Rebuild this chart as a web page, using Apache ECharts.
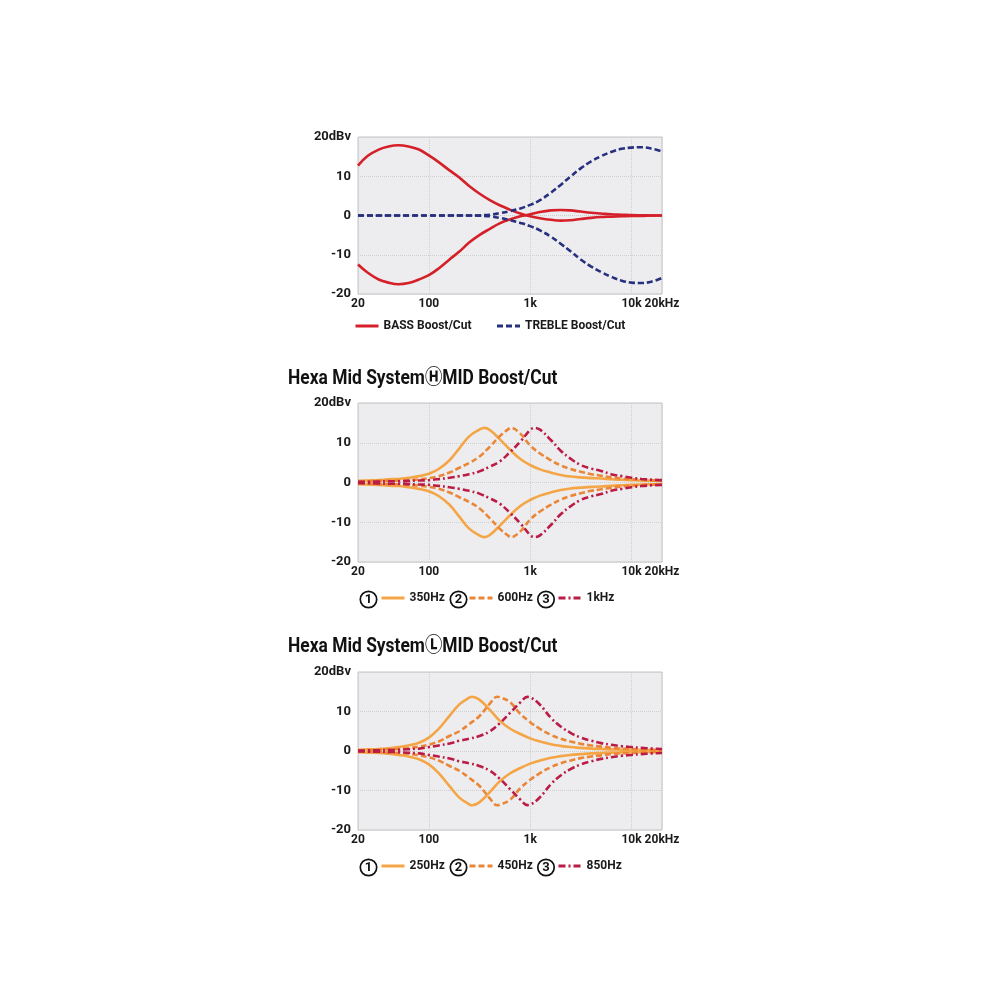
<!DOCTYPE html>
<html lang="en">
<head>
<meta charset="UTF-8">
<title>Tone control response</title>
<script src="https://cdn.jsdelivr.net/npm/echarts@6/dist/echarts.min.js"></script>
<style>
    html, body { margin: 0; padding: 0; background: #ffffff; }
    #main { width: 1000px; height: 1000px; }
</style>
</head>
<body>
<div id="main"></div>
<script>
// axis ticks
var tickValues = [20, 100, 1000, 10000, 20000];
var tickLabels = ['20', '100', '1k', '10k', '20kHz'];
var dbTicks = [-20, -10, 0, 10, 20];
var dbLabels = ['-20', '-10', '0', '10', '20dBv'];

// 1/3 octave frequencies (Hz) shared by all curves
var freqs = [20, 25, 32, 40, 50, 63, 80, 100, 125, 160, 200, 250, 315, 400, 500, 630, 800, 1000, 1250, 1600, 2000, 2500, 3150, 4000, 5000, 6300, 8000, 10000, 12500, 16000, 20000];

// chart 1 : bass / treble (dB)
var bassBoost = [12.7, 15.2, 16.8, 17.6, 17.9, 17.6, 16.8, 15.3, 13.6, 11.5, 9.7, 7.5, 5.6, 3.9, 2.6, 1.5, 0.5, -0.2, -0.7, -1.1, -1.3, -1.2, -0.9, -0.6, -0.4, -0.3, -0.2, -0.1, -0.1, 0, 0];
var bassCut = [-12.5, -14.6, -16.3, -17.1, -17.5, -17.2, -16.3, -15.2, -13.5, -11.2, -9.2, -6.9, -5.0, -3.4, -2.0, -1.0, -0.2, 0.3, 0.9, 1.3, 1.4, 1.3, 1.0, 0.7, 0.5, 0.3, 0.2, 0.1, 0.05, 0, 0];
var trebleBoost = [0, 0, 0, 0, 0, 0, 0, 0, 0, 0, 0, 0, 0.05, 0.2, 0.6, 1.1, 1.8, 2.7, 3.9, 5.8, 7.8, 9.9, 12.0, 13.8, 15.1, 16.2, 17.0, 17.3, 17.4, 17.0, 16.3];
var trebleCut = [0, 0, 0, 0, 0, 0, 0, 0, 0, 0, 0, 0, -0.05, -0.2, -0.6, -1.2, -1.9, -2.7, -3.8, -5.4, -7.2, -9.1, -11.2, -13.0, -14.4, -15.6, -16.6, -17.1, -17.2, -16.8, -15.9];

// chart 2 : H MID
var hNames = ['350Hz', '600Hz', '1kHz'];
var hPeakFreq = [353, 642, 1104];
var hPeakDb = [13.75, 13.75, 13.75];
var hBoost350 = [0.4, 0.5, 0.6, 0.8, 0.9, 1.2, 1.6, 2.2, 3.4, 5.6, 8.6, 11.6, 13.3, 13.2, 10.9, 8.3, 5.9, 4.4, 3.3, 2.5, 1.9, 1.5, 1.3, 1.1, 1.0, 0.8, 0.7, 0.6, 0.5, 0.45, 0.4];
var hCut350 = [-0.4, -0.5, -0.6, -0.8, -0.9, -1.2, -1.6, -2.2, -3.4, -5.6, -8.6, -11.6, -13.3, -13.2, -10.9, -8.3, -5.9, -4.4, -3.3, -2.5, -1.9, -1.5, -1.3, -1.1, -1.0, -0.8, -0.7, -0.6, -0.5, -0.45, -0.4];
var hBoost600 = [0.3, 0.3, 0.4, 0.4, 0.5, 0.6, 0.8, 1.1, 1.6, 2.5, 3.7, 4.9, 6.5, 9.0, 11.6, 13.7, 12.3, 9.3, 7.3, 5.6, 4.3, 3.4, 2.7, 2.1, 1.7, 1.3, 1.0, 0.8, 0.65, 0.55, 0.5];
var hCut600 = [-0.3, -0.3, -0.4, -0.4, -0.5, -0.6, -0.8, -1.1, -1.6, -2.5, -3.7, -4.9, -6.5, -9.0, -11.6, -13.7, -12.3, -9.3, -7.3, -5.6, -4.3, -3.4, -2.7, -2.1, -1.7, -1.3, -1.0, -0.8, -0.65, -0.55, -0.5];
var hBoost1k = [0.2, 0.2, 0.25, 0.3, 0.3, 0.4, 0.5, 0.6, 0.85, 1.2, 1.6, 2.1, 2.8, 4.0, 5.3, 7.6, 10.3, 13.2, 13.3, 10.7, 8.0, 6.0, 4.4, 3.5, 2.9, 2.1, 1.6, 1.2, 0.9, 0.7, 0.6];
var hCut1k = [-0.2, -0.2, -0.25, -0.3, -0.3, -0.4, -0.5, -0.6, -0.85, -1.2, -1.6, -2.1, -2.8, -4.0, -5.3, -7.6, -10.3, -13.2, -13.3, -10.7, -8.0, -6.0, -4.4, -3.5, -2.9, -2.1, -1.6, -1.2, -0.9, -0.7, -0.6];

// chart 3 : L MID
var lNames = ['250Hz', '450Hz', '850Hz'];
var lPeakFreq = [267, 473, 942];
var lPeakDb = [13.75, 13.75, 13.7];
var lBoost250 = [0.3, 0.4, 0.5, 0.7, 1.0, 1.4, 2.1, 3.4, 5.6, 8.9, 11.8, 13.5, 13.0, 10.4, 7.7, 5.7, 4.3, 3.2, 2.4, 1.7, 1.3, 1.0, 0.8, 0.6, 0.5, 0.4, 0.35, 0.3, 0.25, 0.2, 0.2];
var lCut250 = [-0.3, -0.4, -0.5, -0.7, -1.0, -1.4, -2.1, -3.4, -5.6, -8.9, -11.8, -13.5, -13.0, -10.4, -7.7, -5.7, -4.3, -3.2, -2.4, -1.7, -1.3, -1.0, -0.8, -0.6, -0.5, -0.4, -0.35, -0.3, -0.25, -0.2, -0.2];
var lBoost450 = [0.2, 0.2, 0.3, 0.4, 0.5, 0.7, 1.1, 1.6, 2.4, 3.8, 5.0, 6.8, 8.8, 12.0, 13.6, 12.4, 9.4, 7.3, 5.6, 4.1, 3.1, 2.4, 1.8, 1.4, 1.1, 0.8, 0.6, 0.5, 0.4, 0.35, 0.3];
var lCut450 = [-0.2, -0.2, -0.3, -0.4, -0.5, -0.7, -1.1, -1.6, -2.4, -3.8, -5.0, -6.8, -8.8, -12.0, -13.6, -12.4, -9.4, -7.3, -5.6, -4.1, -3.1, -2.4, -1.8, -1.4, -1.1, -0.8, -0.6, -0.5, -0.4, -0.35, -0.3];
var lBoost850 = [0.1, 0.15, 0.2, 0.25, 0.3, 0.45, 0.6, 1.0, 1.4, 1.9, 2.6, 3.1, 3.8, 5.0, 7.0, 9.6, 12.3, 13.6, 11.7, 8.4, 6.2, 4.6, 3.4, 2.6, 2.0, 1.6, 1.2, 1.0, 0.8, 0.6, 0.5];
var lCut850 = [-0.1, -0.15, -0.2, -0.25, -0.3, -0.45, -0.6, -1.0, -1.4, -1.9, -2.6, -3.1, -3.8, -5.0, -7.0, -9.6, -12.3, -13.6, -11.7, -8.4, -6.2, -4.6, -3.4, -2.6, -2.0, -1.6, -1.2, -1.0, -0.8, -0.6, -0.5];

var FONT = "Roboto, 'Noto Sans CJK JP', sans-serif";
var RED = '#d5202a', NAVY = '#27307f', ORANGE = '#f4a546', ORANGE2 = '#ea8636', CRIMSON = '#bb1c45';
var DASH = [6, 3], DASHDOT = [7, 3, 2, 3];

var grids = [
    {left: 358, top: 137, width: 304, height: 157},
    {left: 358, top: 403, width: 304, height: 159},
    {left: 358, top: 672, width: 304, height: 158}
];

// [freq, dB] pairs; an optional peak point is slotted in at its frequency
function pairs(vals, peakF, peakV) {
    var out = freqs.map(function (f, i) { return [f, vals[i]]; });
    if (peakF != null) {
        var k = 0;
        while (k < out.length && out[k][0] < peakF) k++;
        out.splice(k, 0, [peakF, peakV]);
    }
    return out;
}
function tickText(v) {
    for (var i = 0; i < tickValues.length; i++) {
        if (Math.abs(v - tickValues[i]) / tickValues[i] < 0.01) return tickLabels[i];
    }
    return '';
}
function mk(name, g, data, color, dash) {
    return {
        name: name, type: 'line', xAxisIndex: g, yAxisIndex: g,
        data: data, smooth: 0.4, symbol: 'none',
        lineStyle: {color: color, width: 2.6, type: dash || 'solid'},
        itemStyle: {color: color},
        z: 3
    };
}

var xAxes = [], yAxes = [], gridOpts = [];
grids.forEach(function (g, i) {
    gridOpts.push({
        left: g.left, top: g.top, width: g.width, height: g.height,
        show: true, backgroundColor: '#ededef', borderColor: '#c4c4c4', borderWidth: 1
    });
    xAxes.push({
        type: 'log', logBase: 10, gridIndex: i, min: 20, max: 20000,
        axisLine: {show: false}, axisTick: {show: false},
        axisLabel: {formatter: tickText, color: '#1a1a1a', fontFamily: FONT, fontWeight: 'bold', fontSize: 12,
            margin: 4, showMinLabel: true, showMaxLabel: true, hideOverlap: false},
        splitLine: {show: true, lineStyle: {color: '#cfcfcf', type: 'dotted', width: 1}}
    });
    yAxes.push({
        type: 'value', gridIndex: i, min: -20, max: 20, interval: 10,
        axisLine: {show: false}, axisTick: {show: false},
        axisLabel: {
            formatter: function (v) { return dbLabels[dbTicks.indexOf(v)]; },
            color: '#1a1a1a', fontFamily: FONT, fontWeight: 'bold', fontSize: 13, margin: 7
        },
        splitLine: {show: true, lineStyle: {color: '#cfcfcf', type: 'dotted', width: 1}}
    });
});

var series = [
    mk('BASS Boost/Cut', 0, pairs(bassBoost), RED),
    mk('BASS Boost/Cut', 0, pairs(bassCut), RED),
    mk('TREBLE Boost/Cut', 0, pairs(trebleBoost), NAVY, DASH),
    mk('TREBLE Boost/Cut', 0, pairs(trebleCut), NAVY, DASH),

    mk('H ' + hNames[0], 1, pairs(hBoost350, hPeakFreq[0], hPeakDb[0]), ORANGE),
    mk('H ' + hNames[0], 1, pairs(hCut350, hPeakFreq[0], -hPeakDb[0]), ORANGE),
    mk('H ' + hNames[1], 1, pairs(hBoost600, hPeakFreq[1], hPeakDb[1]), ORANGE2, DASH),
    mk('H ' + hNames[1], 1, pairs(hCut600, hPeakFreq[1], -hPeakDb[1]), ORANGE2, DASH),
    mk('H ' + hNames[2], 1, pairs(hBoost1k, hPeakFreq[2], hPeakDb[2]), CRIMSON, DASHDOT),
    mk('H ' + hNames[2], 1, pairs(hCut1k, hPeakFreq[2], -hPeakDb[2]), CRIMSON, DASHDOT),

    mk('L ' + lNames[0], 2, pairs(lBoost250, lPeakFreq[0], lPeakDb[0]), ORANGE),
    mk('L ' + lNames[0], 2, pairs(lCut250, lPeakFreq[0], -lPeakDb[0]), ORANGE),
    mk('L ' + lNames[1], 2, pairs(lBoost450, lPeakFreq[1], lPeakDb[1]), ORANGE2, DASH),
    mk('L ' + lNames[1], 2, pairs(lCut450, lPeakFreq[1], -lPeakDb[1]), ORANGE2, DASH),
    mk('L ' + lNames[2], 2, pairs(lBoost850, lPeakFreq[2], lPeakDb[2]), CRIMSON, DASHDOT),
    mk('L ' + lNames[2], 2, pairs(lCut850, lPeakFreq[2], -lPeakDb[2]), CRIMSON, DASHDOT)
];

var legendText = {color: '#1a1a1a', fontFamily: FONT, fontWeight: 'bold', fontSize: 12};
var legendBase = {padding: 0, itemWidth: 23, itemHeight: 14, selectedMode: false, textStyle: legendText,
    itemStyle: {opacity: 0}, lineStyle: {width: 3}};
function oneLegend(name, left, top, label) {
    return Object.assign({}, legendBase, {
        data: [name], left: left, top: top,
        formatter: function () { return label; }
    });
}
var legends = [
    Object.assign({}, legendBase, {data: ['BASS Boost/Cut', 'TREBLE Boost/Cut'], left: 354, top: 320, itemGap: 24})
];
var legendLefts = [380, 468, 557];
[0, 1, 2].forEach(function (i) {
    legends.push(oneLegend('H ' + hNames[i], legendLefts[i], 592, hNames[i]));
    legends.push(oneLegend('L ' + lNames[i], legendLefts[i], 860, lNames[i]));
});

// circled numbers in front of the mid legends
var circleX = [368.5, 458.5, 546];
var graphics = [];
[599.5, 867.5].forEach(function (cy) {
    circleX.forEach(function (cx, i) {
        graphics.push({type: 'circle', shape: {cx: cx, cy: cy, r: 8.2},
            style: {fill: '#ffffff', stroke: '#111111', lineWidth: 1.7}});
        graphics.push({type: 'text', x: cx, y: cy + 0.5,
            style: {text: String(i + 1), fill: '#111111', font: 'bold 13px ' + FONT, align: 'center', verticalAlign: 'middle'}});
    });
});
// section titles
graphics.push({type: 'text', x: 288, y: 379, scaleX: 0.87,
    style: {text: 'Hexa Mid System\u24BDMID Boost/Cut', fill: '#111111', font: 'bold 20px ' + FONT, verticalAlign: 'middle'}});
graphics.push({type: 'text', x: 288, y: 647, scaleX: 0.87,
    style: {text: 'Hexa Mid System\u24C1MID Boost/Cut', fill: '#111111', font: 'bold 20px ' + FONT, verticalAlign: 'middle'}});

var myChart = echarts.init(document.getElementById('main'));
myChart.setOption({
    backgroundColor: '#ffffff',
    animation: false,
    grid: gridOpts,
    xAxis: xAxes,
    yAxis: yAxes,
    legend: legends,
    graphic: graphics,
    series: series
});
</script>
</body>
</html>
